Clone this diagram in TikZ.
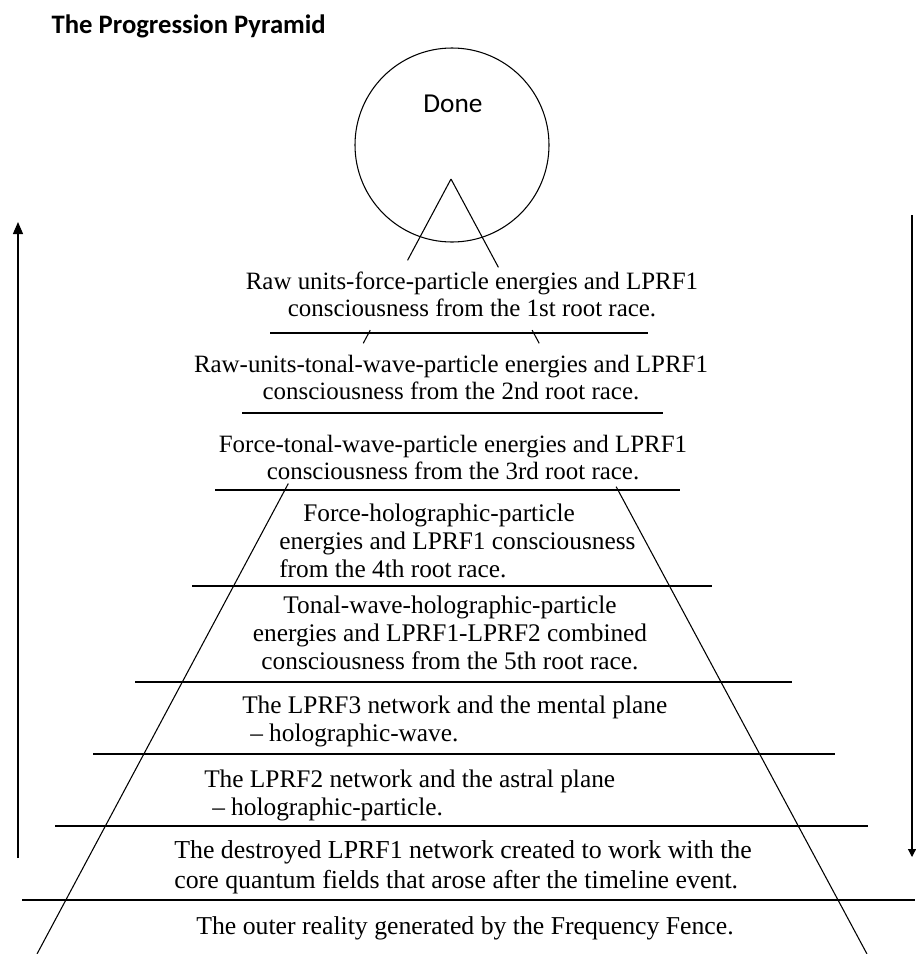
\documentclass[tikz,border=0pt]{standalone}
\usepackage{fontspec}
\setmainfont{Liberation Serif}
\newfontfamily\calibrifont{Carlito}
\usetikzlibrary{calc,arrows.meta}

\begin{document}
\begin{tikzpicture}[x=0.75pt,y=-0.75pt,
	leg/.style={line width=0.8pt},
	rung/.style={line width=1.1pt},
	layer/.style={inner sep=0pt, font=\fontsize{18.7}{20.25}\selectfont},
	lowlayer/.style={inner sep=0pt, font=\fontsize{19}{21}\selectfont}]
	\useasboundingbox (0,0) rectangle (915,954);

	\draw (47,33) node[anchor=base west, font=\calibrifont\bfseries\fontsize{20}{24}\selectfont] (title) {The Progression Pyramid};

	% the top of the pyramid
	\draw (452,145) node[draw, circle, minimum size=145.5pt, inner sep=0pt, line width=0.8pt] (done) {};
	\draw (453,112) node[anchor=base, font=\calibrifont\fontsize{20.5}{24}\selectfont] (donetext) {Done};

	\coordinate (apex) at (451,179);
	\coordinate (baseL) at (37,954);
	\coordinate (baseR) at (867,954);
	\foreach \a/\b in {0/0.105,0.195/0.212,0.393/1}
		\draw[leg] ($(apex)!\a!(baseL)$) -- ($(apex)!\b!(baseL)$);
	\foreach \a/\b in {0/0.114,0.195/0.212,0.397/1}
		\draw[leg] ($(apex)!\a!(baseR)$) -- ($(apex)!\b!(baseR)$);

	% layers
	\foreach \y/\xa/\xb in {333/270/648,413/242/663,490/215/680,586/192/712,682/135/792,754/93/835,826/55/868,900/22/915}
		\draw[rung] (\xa,\y) -- (\xb,\y);

	\draw (472,272) node[layer, anchor=north, align=center] (rawforce) {Raw units-force-particle energies and LPRF1\\consciousness from the 1st root race.};
	\draw (451,355) node[layer, anchor=north, align=center] (rawtonal) {Raw-units-tonal-wave-particle energies and LPRF1\\consciousness from the 2nd root race.};
	\draw (453,435) node[layer, anchor=north, align=center] (forcetonal) {Force-tonal-wave-particle energies and LPRF1\\consciousness from the 3rd root race.};
	\draw (279,503.7) node[lowlayer, anchor=north west, align=left] (forceholo) {\hspace*{18pt}Force-holographic-particle\\energies and LPRF1 consciousness\\from the 4th root race.};
	\draw (450,595.7) node[lowlayer, anchor=north, align=center] (tonalholo) {Tonal-wave-holographic-particle\\energies and LPRF1-LPRF2 combined\\consciousness from the 5th root race.};
	\draw (242,695.7) node[lowlayer, anchor=north west, align=left] (mental) {The LPRF3 network and the mental plane\\\hspace*{6pt}– holographic-wave.};
	\draw (204,769.7) node[lowlayer, anchor=north west, align=left] (astral) {The LPRF2 network and the astral plane\\\hspace*{6pt}– holographic-particle.};
	\draw (174,840.3) node[lowlayer, font=\fontsize{19.4}{22.5}\selectfont, anchor=north west, align=left] (destroyed) {The destroyed LPRF1 network created to work with the\\core quantum fields that arose after the timeline event.};
	\draw (465,916.4) node[lowlayer, font=\fontsize{19.3}{22}\selectfont, anchor=north] (outer) {The outer reality generated by the Frequency Fence.};

	% direction arrows
	\coordinate (risefoot) at (18,858);
	\coordinate (risetip) at (18,222);
	\draw[line width=0.9pt, -{Triangle[length=9pt,width=7.5pt]}] (risefoot) -- (risetip);
	\coordinate (falltop) at (912,215);
	\coordinate (falltip) at (912,857);
	\draw[line width=0.9pt, -{Triangle[length=6pt,width=6pt]}] (falltop) -- (falltip);
\end{tikzpicture}
\end{document}
